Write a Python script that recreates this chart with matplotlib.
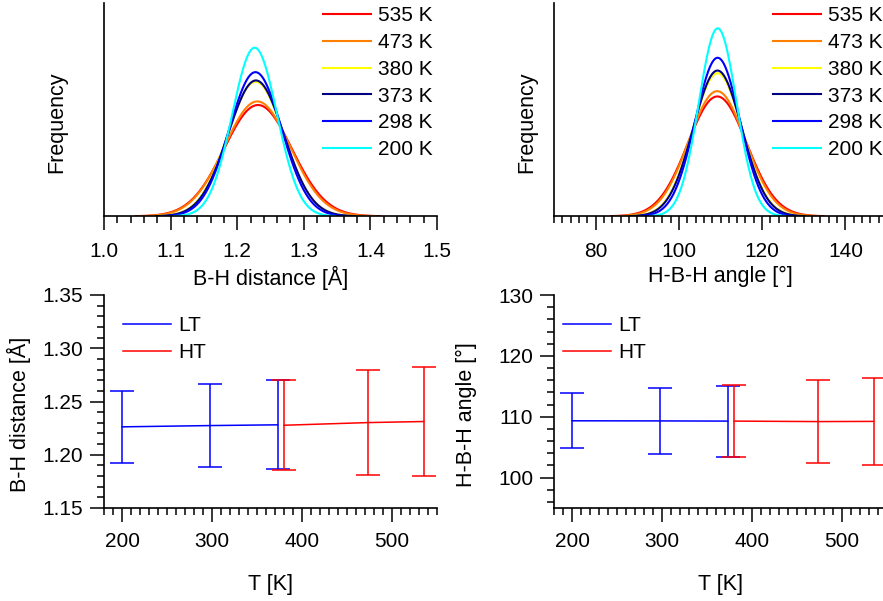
import numpy as np
import matplotlib
matplotlib.use("Agg")
import matplotlib.pyplot as plt
from matplotlib.ticker import MultipleLocator, FormatStrFormatter

plt.rcParams['font.family'] = ['Liberation Sans', 'DejaVu Sans']
plt.rcParams['font.size'] = 15

# ---- data ----
temps_legend = ['535 K', '473 K', '380 K', '373 K', '298 K', '200 K']
curve_colors = ['#ff0000', '#ff8000', '#ffff00', '#000080', '#0000ff', '#00ffff']

T_LT = [200, 298, 373]
T_HT = [380, 473, 535]

BH_mean_LT = [1.2262, 1.2274, 1.2281]
BH_sd_LT = [0.0336, 0.0393, 0.0417]
BH_mean_HT = [1.2277, 1.2302, 1.2312]
BH_sd_HT = [0.0421, 0.0493, 0.0509]

HBH_mean_LT = [109.33, 109.31, 109.28]
HBH_sd_LT = [4.52, 5.36, 5.83]
HBH_mean_HT = [109.28, 109.20, 109.23]
HBH_sd_HT = [5.94, 6.79, 7.09]

# order of the distribution curves: 535, 473, 380, 373, 298, 200 K
BH_mean_curves = [BH_mean_HT[2], BH_mean_HT[1], BH_mean_HT[0], BH_mean_LT[2], BH_mean_LT[1], BH_mean_LT[0]]
BH_sd_curves = [BH_sd_HT[2], BH_sd_HT[1], BH_sd_HT[0], BH_sd_LT[2], BH_sd_LT[1], BH_sd_LT[0]]
HBH_mean_curves = [HBH_mean_HT[2], HBH_mean_HT[1], HBH_mean_HT[0], HBH_mean_LT[2], HBH_mean_LT[1], HBH_mean_LT[0]]
HBH_sd_curves = [HBH_sd_HT[2], HBH_sd_HT[1], HBH_sd_HT[0], HBH_sd_LT[2], HBH_sd_LT[1], HBH_sd_LT[0]]

LT_color = '#0000ff'
HT_color = '#ff0000'

LABEL_FS = 15.5

W, H = 883, 601
fig = plt.figure(figsize=(W / 100, H / 100), dpi=100)

def px_axes(x0, y0, x1, y1):
    return fig.add_axes([x0 / W, 1 - y1 / H, (x1 - x0) / W, (y1 - y0) / H])

ax_tl = px_axes(104, 3.3, 437, 216.3)
ax_tr = px_axes(554, 3.3, 887, 216.3)
ax_bl = px_axes(104, 295, 437, 508)
ax_br = px_axes(554, 295, 887, 508)

def style(ax, xpad):
    for s in ['top', 'right']:
        ax.spines[s].set_visible(False)
    for s in ['left', 'bottom']:
        ax.spines[s].set_linewidth(1.2)
    ax.tick_params(which='major', direction='out', length=10, width=1.1, labelsize=15)
    ax.tick_params(which='minor', direction='out', length=5, width=1.1)
    ax.tick_params(axis='x', which='major', pad=xpad)
    ax.tick_params(axis='y', which='major', pad=5)

def gauss(x, m, s):
    return np.exp(-0.5 * ((x - m) / s) ** 2) / (s * np.sqrt(2 * np.pi))

# ---- top panels ----
for ax, means, sds, xlim, ylim in [
        (ax_tl, BH_mean_curves, BH_sd_curves, (1.0, 1.5), (0, 15)),
        (ax_tr, HBH_mean_curves, HBH_sd_curves, (70, 150), (0, 0.1))]:
    style(ax, 8.5)
    for lab, col, m, s in zip(temps_legend, curve_colors, means, sds):
        x = np.linspace(m - 3.6 * s, m + 3.6 * s, 400)
        ax.plot(x, gauss(x, m, s), color=col, lw=1.5, label=lab)
    ax.set_xlim(*xlim)
    ax.set_ylim(*ylim)
    ax.set_yticks([])
    ax.set_ylabel('Frequency', fontsize=LABEL_FS)
    ax.legend(loc='upper left', bbox_to_anchor=(0.657, 0.985), frameon=False,
              fontsize=15, handlelength=2.3, handletextpad=0.35, labelspacing=0.37,
              borderpad=0, borderaxespad=0)

ax_tl.xaxis.set_major_locator(MultipleLocator(0.1))
ax_tl.xaxis.set_minor_locator(MultipleLocator(0.02))
ax_tl.xaxis.set_major_formatter(FormatStrFormatter('%.1f'))
ax_tl.set_xlabel('B-H distance [Å]', fontsize=LABEL_FS)
ax_tl.xaxis.set_label_coords(0.5, -0.233)
ax_tl.yaxis.set_label_coords(-0.111, 0.44)

ax_tr.xaxis.set_major_locator(MultipleLocator(20))
ax_tr.xaxis.set_minor_locator(MultipleLocator(2))
ax_tr.set_xlabel('H-B-H angle [°]', fontsize=LABEL_FS)
ax_tr.xaxis.set_label_coords(0.5, -0.233)
ax_tr.yaxis.set_label_coords(-0.051, 0.44)

# ---- bottom panels ----
for ax, mLT, sLT, mHT, sHT, ylim, maj, mino, fmt, ylab, lx in [
        (ax_bl, BH_mean_LT, BH_sd_LT, BH_mean_HT, BH_sd_HT, (1.15, 1.35), 0.05, 0.01, '%.2f', 'B-H distance [Å]', 0.057),
        (ax_br, HBH_mean_LT, HBH_sd_LT, HBH_mean_HT, HBH_sd_HT, (95, 130), 10, 2, '%d', 'H-B-H angle [°]', 0.027)]:
    style(ax, 7.5)
    ax.plot(T_LT, mLT, color=LT_color, lw=1.1, label='LT')
    ax.errorbar(T_LT, mLT, yerr=sLT, fmt='none', ecolor=LT_color, elinewidth=1.1,
                capsize=8.3, capthick=1.1)
    ax.plot(T_HT, mHT, color=HT_color, lw=1.1, label='HT')
    ax.errorbar(T_HT, mHT, yerr=sHT, fmt='none', ecolor=HT_color, elinewidth=1.1,
                capsize=8.3, capthick=1.1)
    ax.set_xlim(180, 550)
    ax.set_ylim(*ylim)
    ax.xaxis.set_major_locator(MultipleLocator(100))
    ax.xaxis.set_minor_locator(MultipleLocator(10))
    ax.yaxis.set_major_locator(MultipleLocator(maj))
    ax.yaxis.set_minor_locator(MultipleLocator(mino))
    ax.yaxis.set_major_formatter(FormatStrFormatter(fmt))
    ax.set_xlabel('T [K]', fontsize=LABEL_FS)
    ax.xaxis.set_label_coords(0.5, -0.308)
    ax.set_ylabel(ylab, fontsize=LABEL_FS)
    ax.legend(loc='upper left', bbox_to_anchor=(lx, 0.90), frameon=False,
              fontsize=15, handlelength=2.3, handletextpad=0.35, labelspacing=0.37,
              borderpad=0, borderaxespad=0)

ax_bl.yaxis.set_label_coords(-0.218, 0.44)
ax_br.yaxis.set_label_coords(-0.231, 0.44)

fig.savefig('out.png', dpi=100)
